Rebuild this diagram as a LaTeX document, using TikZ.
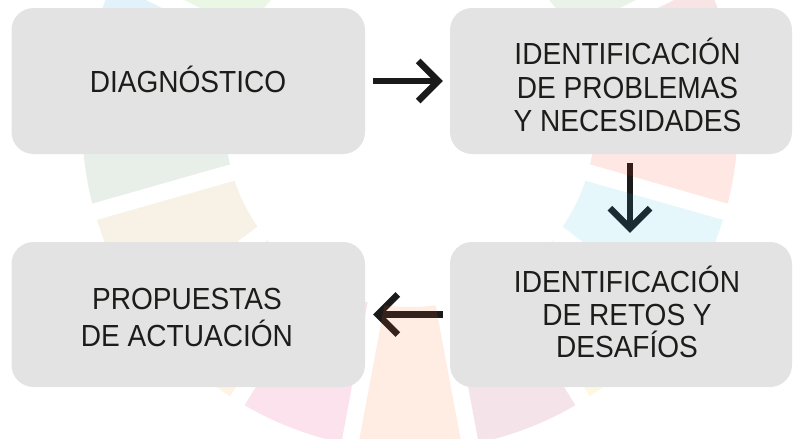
\documentclass[tikz,border=0pt]{standalone}
\usepackage{fontspec}
\setmainfont{Liberation Sans}[FakeStretch=0.92]
\usetikzlibrary{arrows.meta}
\definecolor{boxgray}{HTML}{E3E3E3}
\definecolor{ink}{HTML}{1C1C1A}
\definecolor{arrowink}{HTML}{1A1A1A}
\definecolor{sdg1}{HTML}{E5243B}
\definecolor{sdg2}{HTML}{DDA63A}
\definecolor{sdg3}{HTML}{4C9F38}
\definecolor{sdg4}{HTML}{C5192D}
\definecolor{sdg5}{HTML}{FF3A21}
\definecolor{sdg6}{HTML}{26BDE2}
\definecolor{sdg7}{HTML}{FCC30B}
\definecolor{sdg8}{HTML}{A21942}
\definecolor{sdg9}{HTML}{FD6925}
\definecolor{sdg10}{HTML}{DD1367}
\definecolor{sdg11}{HTML}{FD9D24}
\definecolor{sdg12}{HTML}{BF8B2E}
\definecolor{sdg13}{HTML}{3F7E44}
\definecolor{sdg14}{HTML}{0A97D9}
\definecolor{sdg15}{HTML}{56C02B}
\definecolor{sdg16}{HTML}{00689D}
\definecolor{sdg17}{HTML}{19486A}
\pgfdeclarelayer{arrowlayer}
\pgfdeclarelayer{wheellayer}
\pgfsetlayers{arrowlayer,wheellayer,main}
\begin{document}
\begin{tikzpicture}[x=1pt,y=1pt,
  box/.style={rectangle, rounded corners=22pt, fill=boxgray, draw=none, inner sep=0pt},
  txt/.style={text=ink, align=center, inner sep=0pt, anchor=south},
  flow/.style={draw=arrowink, line width=6.5pt, -{Straight Barb[sharp,length=20pt,width=40pt]}},
  seg/.style={draw=none, fill opacity=0.12}
]
\useasboundingbox (0,0) rectangle (793,-439);
% boxes
\node[box, minimum width=353.5pt, minimum height=146pt] (d) at (188.25,-81) {};
\node[box, minimum width=342pt, minimum height=146pt] (p) at (621,-81) {};
\node[box, minimum width=353.5pt, minimum height=145pt] (a) at (188.25,-314.5) {};
\node[box, minimum width=342pt, minimum height=145pt] (r) at (621,-314.5) {};
% texts
\node[txt, font=\fontsize{30.5}{33.5}\selectfont] (dt) at (188,-93) {DIAGNÓSTICO};
\node[txt, font=\fontsize{30.5}{33.5}\selectfont] (pt) at (627.5,-132) {IDENTIFICACIÓN\\DE PROBLEMAS\\Y NECESIDADES};
\node[txt, font=\fontsize{30.5}{37}\selectfont] (at) at (187,-347) {PROPUESTAS\\DE ACTUACIÓN};
\node[txt, font=\fontsize{30.5}{32.5}\selectfont] (rt) at (627,-358) {IDENTIFICACIÓN\\DE RETOS Y\\DESAFÍOS};
% arrows
\begin{pgfonlayer}{arrowlayer}
\draw[flow, shorten <=8pt, shorten >=7pt] (d) -- (p);
\draw[flow, shorten <=9pt, shorten >=9pt] ([xshift=9pt]p.south) -- ([xshift=9pt]r.north);
\draw[flow, shorten <=7pt, shorten >=8pt] (r) -- (a);
\end{pgfonlayer}
% faded SDG wheel
\begin{pgfonlayer}{wheellayer}
\begin{scope}
\clip (0,0) rectangle (793,-439);
\coordinate (wc) at (410,-122);
\foreach \n in {1,...,17}{
  \pgfmathsetmacro\ca{-90+21.17647*(9-\n)}
  \pgfmathsetmacro\ai{\ca-10.58824+2.633}
  \pgfmathsetmacro\bi{\ca+10.58824-2.633}
  \pgfmathsetmacro\ao{\ca-10.58824+1.485}
  \pgfmathsetmacro\bo{\ca+10.58824-1.485}
  \fill[seg, fill=sdg\n] ([shift={(\ai:185pt)}]wc) -- ([shift={(\ao:328pt)}]wc)
    arc[start angle=\ao, end angle=\bo, radius=328pt]
    -- ([shift={(\bi:185pt)}]wc)
    arc[start angle=\bi, end angle=\ai, radius=185pt] -- cycle;
}
\end{scope}
\end{pgfonlayer}
\end{tikzpicture}
\end{document}
